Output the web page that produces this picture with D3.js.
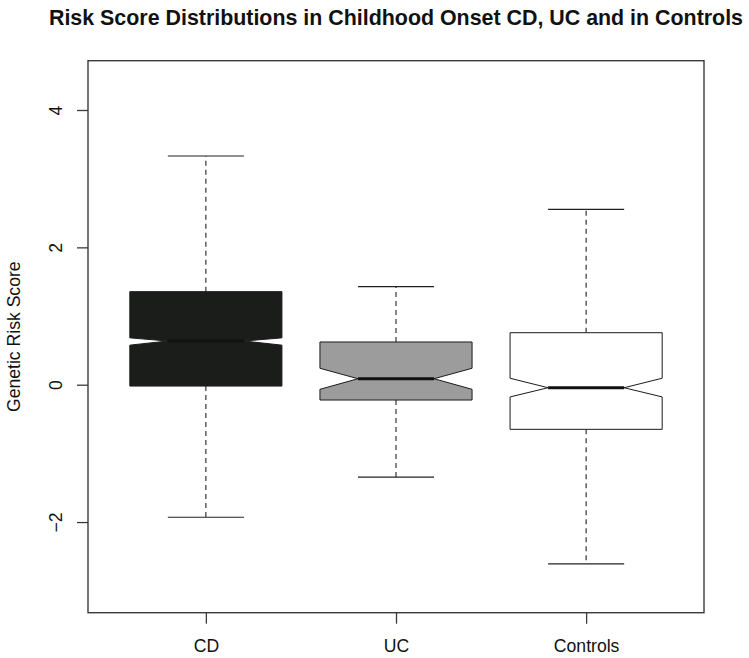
<!DOCTYPE html>
<html><head><meta charset="utf-8">
<script src="https://cdn.jsdelivr.net/npm/d3@7"></script>
<style>
html,body{margin:0;padding:0;background:#fff;}
svg{display:block;font-family:"Liberation Sans",Arial,Helvetica,sans-serif;}
</style></head>
<body>
<svg id="chart" width="749" height="658"></svg>
<script>
const categories = ["CD", "UC", "Controls"];
const whiskerLow  = [-1.93, -1.345, -2.61];
const q1          = [-0.02, -0.223, -0.65];
const medians     = [0.636, 0.087, -0.044];
const q3          = [1.355, 0.622, 0.757];
const whiskerHigh = [3.33, 1.427, 2.554];
const notchLow    = [0.576, -0.067, -0.178];
const notchHigh   = [0.682, 0.239, 0.094];
const fills       = ["#1b1d1b", "#9c9c9c", "#ffffff"];
const yTicks      = [-2, 0, 2, 4];
const title = "Risk Score Distributions in Childhood Onset CD, UC and in Controls";
const yLabel = "Genetic Risk Score";

(function () {
const svg = d3.select("#chart");
const mLeft = 88, mRight = 704, mTop = 60.7, mBottom = 612.7;

const x = d3.scaleLinear().domain([0.38, 3.62]).range([mLeft, mRight]);
const y = d3.scaleLinear().domain([-3.32, 4.718]).range([mBottom, mTop]);

const data = categories.map((c, i) => ({
  cat: c, pos: i + 1, lo: whiskerLow[i], q1: q1[i], med: medians[i], q3: q3[i],
  hi: whiskerHigh[i], nl: notchLow[i], nh: notchHigh[i], fill: fills[i]
}));

const halfW = 0.4, frac = 0.5, staple = 0.2;
const g = svg.append("g");

data.forEach(d => {
  const cx = d.pos;
  g.append("line").attr("x1", x(cx)).attr("x2", x(cx))
    .attr("y1", y(d.q3)).attr("y2", y(d.hi))
    .attr("stroke", "#222").attr("stroke-width", 1.1).attr("stroke-dasharray", "5,4");
  g.append("line").attr("x1", x(cx)).attr("x2", x(cx))
    .attr("y1", y(d.q1)).attr("y2", y(d.lo))
    .attr("stroke", "#222").attr("stroke-width", 1.1).attr("stroke-dasharray", "5,4");
  [d.lo, d.hi].forEach(v => {
    g.append("line").attr("x1", x(cx - staple)).attr("x2", x(cx + staple))
      .attr("y1", y(v)).attr("y2", y(v))
      .attr("stroke", "#222").attr("stroke-width", 1.2);
  });
  const pts = [
    [cx - halfW, d.q1], [cx + halfW, d.q1], [cx + halfW, d.nl],
    [cx + halfW * frac, d.med], [cx + halfW, d.nh], [cx + halfW, d.q3],
    [cx - halfW, d.q3], [cx - halfW, d.nh], [cx - halfW * frac, d.med],
    [cx - halfW, d.nl]
  ];
  g.append("path")
    .attr("d", d3.line().x(p => x(p[0])).y(p => y(p[1]))(pts) + "Z")
    .attr("fill", d.fill).attr("stroke", "#1b1b1b").attr("stroke-width", 1);
  g.append("line").attr("x1", x(cx - halfW * frac)).attr("x2", x(cx + halfW * frac))
    .attr("y1", y(d.med)).attr("y2", y(d.med))
    .attr("stroke", "#111").attr("stroke-width", 3);
});

svg.append("rect").attr("x", mLeft).attr("y", mTop)
  .attr("width", mRight - mLeft).attr("height", mBottom - mTop)
  .attr("fill", "none").attr("stroke", "#3a3a3a").attr("stroke-width", 1.4);

const yAxis = svg.append("g").attr("transform", `translate(${mLeft},0)`)
  .call(d3.axisLeft(y).tickValues(yTicks).tickSize(11).tickSizeOuter(0).tickFormat(d3.format("d")));
yAxis.select(".domain").remove();
yAxis.selectAll(".tick line").attr("stroke", "#3a3a3a").attr("stroke-width", 1.3);
yAxis.selectAll(".tick text")
  .attr("font-family", '"Liberation Sans",Arial,sans-serif')
  .attr("font-size", 17.6).attr("fill", "#111")
  .attr("x", 0).attr("dy", null).attr("text-anchor", "middle")
  .attr("transform", "translate(-26,0) rotate(-90)");

const xAxis = svg.append("g").attr("transform", `translate(0,${mBottom})`)
  .call(d3.axisBottom(x).tickValues([1, 2, 3]).tickSize(11).tickSizeOuter(0)
    .tickFormat(v => categories[v - 1]));
xAxis.select(".domain").remove();
xAxis.selectAll(".tick line").attr("stroke", "#3a3a3a").attr("stroke-width", 1.3);
xAxis.selectAll(".tick text")
  .attr("font-family", '"Liberation Sans",Arial,sans-serif')
  .attr("font-size", 17.6).attr("fill", "#111")
  .attr("y", 39.3).attr("dy", null);

svg.append("text").attr("x", (mLeft + mRight) / 2).attr("y", 25)
  .attr("text-anchor", "middle").attr("font-weight", "bold")
  .attr("font-size", 21.4).attr("fill", "#111").text(title);

svg.append("text")
  .attr("transform", `translate(20,${(mTop + mBottom) / 2}) rotate(-90)`)
  .attr("text-anchor", "middle").attr("font-size", 17.6).attr("fill", "#111")
  .text(yLabel);
})();
</script>
</body></html>
